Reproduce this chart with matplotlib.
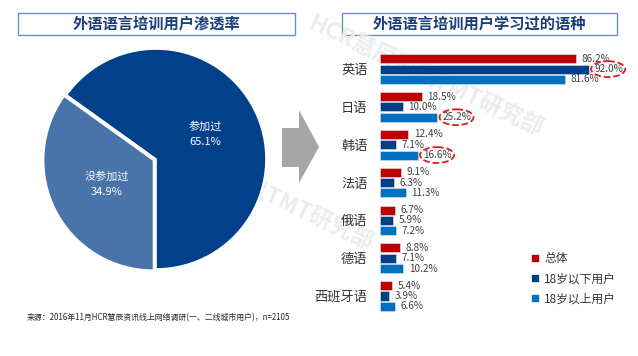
import matplotlib
matplotlib.use("Agg")
import matplotlib.pyplot as plt
from matplotlib.patches import Rectangle, Polygon, Ellipse, Patch
import numpy as np

plt.rcParams['font.family'] = ['Noto Sans CJK SC', 'DejaVu Sans']

W, H = 638, 356

# ---- data ----
pie_labels = ["参加过", "没参加过"]
pie_values = [65.1, 34.9]

languages = ["英语", "日语", "韩语", "法语", "俄语", "德语", "西班牙语"]
series_names = ["总体", "18岁以下用户", "18岁以上用户"]
overall = [86.2, 18.5, 12.4, 9.1, 6.7, 8.8, 5.4]
under18 = [92.0, 10.0, 7.1, 6.3, 5.9, 7.1, 3.9]
over18 = [81.6, 25.2, 16.6, 11.3, 7.2, 10.2, 6.6]
# (language index, series index) of the circled labels
highlights = [(0, 1), (1, 2), (2, 2)]

title_left = "外语语言培训用户渗透率"
title_right = "外语语言培训用户学习过的语种"
source = "来源：2016年11月HCR慧辰资讯线上网络调研(一、二线城市用户)，n=2105"
watermark = "HCR慧辰资讯TMT研究部"

RED, DARK, LIGHT = "#C00000", "#003F88", "#0070C0"
PIE_COLORS = ["#02418A", "#4874AA"]


def px_box(x0, y0, x1, y1):
    """pixel box (top-left origin) -> figure fraction rect"""
    return [x0 / W, 1 - y1 / H, (x1 - x0) / W, (y1 - y0) / H]


fig = plt.figure(figsize=(W / 100, H / 100), dpi=100)
fig.patch.set_facecolor("white")

# background layer: watermark, arrow, title boxes, source
bg = fig.add_axes([0, 0, 1, 1], zorder=-1)
bg.set_xlim(0, W)
bg.set_ylim(H, 0)
bg.axis("off")
for cx, cy in [(426, 77), (256, 191)]:
    bg.text(cx, cy, watermark, rotation=-25, ha="center", va="center",
            fontsize=16.5, fontweight="bold", style="italic", color="#ECECEC")

bg.add_patch(Polygon([(282, 128), (299, 128), (299, 110), (319, 147),
                      (299, 183), (299, 167), (282, 167)],
                     closed=True, facecolor="#A6A6A6", edgecolor="none"))

for (x0, x1), title in [((18, 295), title_left), ((342, 617), title_right)]:
    bg.add_patch(Rectangle((x0, 13), x1 - x0, 22, facecolor="white",
                           edgecolor="#6F8FC4", linewidth=1))
    bg.text((x0 + x1) / 2, 24, title, ha="center", va="center",
            fontsize=11, fontweight="bold", color="#1B3F7A")

bg.text(27, 318, source, ha="left", va="center", fontsize=5.7, color="#262626")

# ---- pie ----
pax = fig.add_axes(px_box(46, 49, 266, 269))
wedges, _ = pax.pie(pie_values, colors=PIE_COLORS, startangle=-90,
                    counterclock=True, explode=[0, 0.025],
                    wedgeprops=dict(edgecolor="white", linewidth=1.2))
pax.set_xlim(-1, 1)
pax.set_ylim(-1, 1)
pax.set_aspect("equal")
for w, lab, val in zip(wedges, pie_labels, pie_values):
    ang = np.deg2rad((w.theta1 + w.theta2) / 2)
    r = 0.5
    pax.text(r * np.cos(ang), r * np.sin(ang), f"{lab}\n{val:.1f}%",
             ha="center", va="center", color="white", fontsize=8,
             linespacing=1.7)

# ---- bars ----
ax = fig.add_axes(px_box(380, 50.2, 607, 314.9))
ax.patch.set_alpha(0)
y = np.arange(len(languages))
pitch, bh = 0.273, 0.24
for k, (vals, col, name) in enumerate(zip([overall, under18, over18],
                                          [RED, DARK, LIGHT], series_names)):
    yy = y + (k - 1) * pitch
    ax.barh(yy, vals, height=bh, color=col, edgecolor="#DDE6F0",
            linewidth=0.4, label=name)
    for yv, v in zip(yy, vals):
        ax.annotate(f"{v:.1f}%", (v, yv), xytext=(4, 0),
                    textcoords="offset points", ha="left", va="center",
                    fontsize=7.2, color="#404040")

all_series = [overall, under18, over18]
for gi, si in highlights:
    v = all_series[si][gi]
    ax.add_patch(Ellipse((v + 8.5, gi + (si - 1) * pitch), 15, 0.42,
                         fill=False, edgecolor="#E41A1A", linestyle="--",
                         linewidth=1.3, clip_on=False, zorder=5))

ax.set_xlim(0, 100)
ax.set_ylim(len(languages) - 0.5, -0.5)
ax.set_yticks(y)
ax.set_yticklabels(languages, fontsize=9.5, color="#333333")
ax.tick_params(axis="y", length=0, pad=9)
ax.set_xticks([])
for s in ax.spines.values():
    s.set_visible(False)

handles = [Patch(facecolor=c, edgecolor="white", linewidth=0.5)
           for c in [RED, DARK, LIGHT]]
fig.legend(handles, series_names, loc="upper left",
           bbox_to_anchor=(531 / W, 1 - 252 / H), frameon=False,
           fontsize=8.5, handlelength=0.7, handleheight=0.7,
           handletextpad=0.4, labelspacing=0.6, borderpad=0,
           borderaxespad=0, labelcolor="#333333")

fig.savefig("out.png", dpi=100)
